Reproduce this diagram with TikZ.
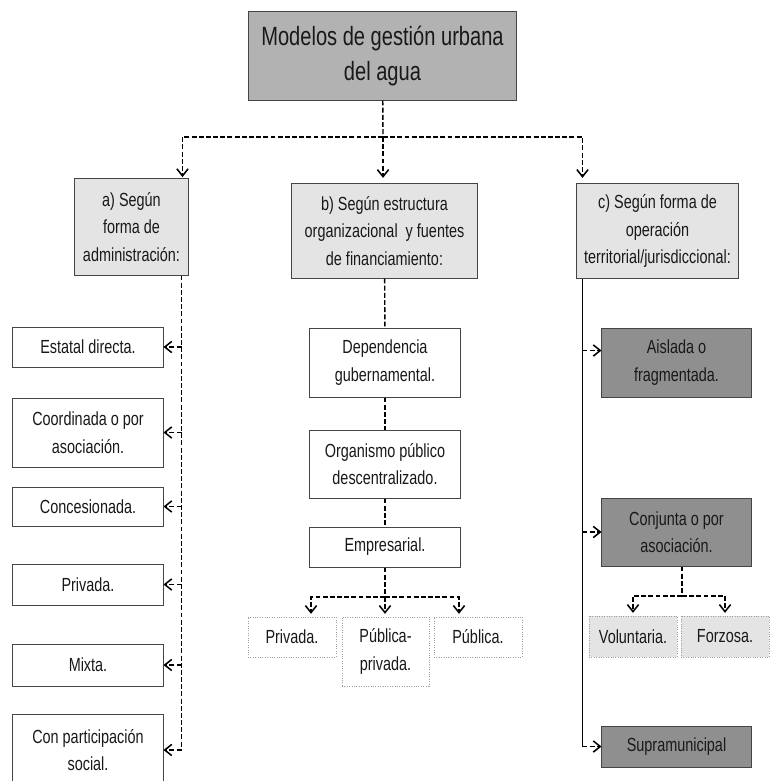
\documentclass[tikz,border=0pt]{standalone}
\usepackage{fontspec}
\setmainfont{Liberation Sans}[FakeStretch=0.76]
\usepackage{xcolor}
\usetikzlibrary{arrows.meta}
\usetikzlibrary{calc}

\definecolor{grismedio}{HTML}{B2B2B2}
\definecolor{grisclaro}{HTML}{E4E4E4}
\definecolor{grisoscuro}{HTML}{8F8F8F}
\definecolor{borde}{HTML}{454545}

\tikzset{
	caja/.style={align=center, inner sep=0pt, draw=borde, line width=0.7pt, text=black!90,
		font=\fontsize{13.5}{19.6}\selectfont},
	hoja/.style={caja, fill=white},
	categoria/.style={caja, fill=grisclaro},
	oscura/.style={caja, fill=grisoscuro},
	punteada/.style={caja, draw=gray!75, densely dotted, line width=0.5pt},
	linea/.style={line width=1pt, dash pattern=on 3.5pt off 1.6pt},
	flecha/.style={linea, -{Straight Barb[length=5pt,width=8pt,line width=1.1pt]}},
	solida/.style={line width=1.4pt}
}

\begin{document}
\begin{tikzpicture}[x=0.025cm, y=-0.025cm]
	\clip (0,0) rectangle (773,781);
	\fill [white] (0,0) rectangle (773,781);

	% raiz
	\node [caja, fill=grismedio, minimum width=6.675cm, minimum height=2.2cm,
		font=\fontsize{18.8}{24.9}\selectfont] (raiz) at (382.5,56) {Modelos de gesti\'on urbana\\del agua};

	% tres criterios
	\node [categoria, minimum width=2.825cm, minimum height=2.4cm] (a) at (131.5,227) {a) Seg\'un\\forma de\\administraci\'on:};
	\node [categoria, minimum width=4.625cm, minimum height=2.35cm] (b) at (384.5,231) {b) Seg\'un estructura\\organizacional \ y fuentes\\de financiamiento:};
	\node [categoria, minimum width=4.025cm, minimum height=2.35cm] (c) at (657.5,231) {c) Seg\'un forma de\\operaci\'on\\territorial/jurisdiccional:};

	\coordinate (bus) at (383,137);
	\draw [linea] (raiz) -- (bus);
	\draw [flecha, shorten >=1pt] (bus) -| ($(a.north east)+(-6,0)$);
	\draw [flecha, shorten >=4pt] (bus) -- (bus |- b.north);
	\draw [flecha, shorten >=4pt] (bus) -| ($(c.north west)+(6,0)$);

	% columna a
	\node [hoja, minimum width=3.75cm, minimum height=1cm] (est) at (88,347) {Estatal directa.};
	\node [hoja, minimum width=3.75cm, minimum height=1.725cm] (coo) at (88,432.5) {Coordinada o por\\asociaci\'on.};
	\node [hoja, minimum width=3.75cm, minimum height=0.975cm] (conc) at (88,506.5) {Concesionada.};
	\node [hoja, minimum width=3.75cm, minimum height=1.025cm] (priv) at (88,584.5) {Privada.};
	\node [hoja, minimum width=3.75cm, minimum height=1.05cm] (mix) at (88,665) {Mixta.};
	\node [hoja, minimum width=3.75cm, minimum height=1.8cm] (con) at (88,750) {Con participaci\'on\\social.};

	\coordinate (la) at ($(a.south east)+(-7,0)$);
	\draw [linea] (la) -- (la |- con.east);
	\foreach \n in {est,coo,conc,priv,mix,con}
		\draw [flecha] (la |- \n.east) -- (\n.east);

	% columna b
	\node [hoja, minimum width=3.75cm, minimum height=1.725cm] (dep) at (385,362.5) {Dependencia\\gubernamental.};
	\node [hoja, minimum width=3.75cm, minimum height=1.7cm] (org) at (385,464) {Organismo p\'ublico\\descentralizado.};
	\node [hoja, minimum width=3.75cm, minimum height=1cm] (emp) at (385,547) {Empresarial.};
	\draw [linea] (b) -- (dep);
	\draw [linea] (dep) -- (org);
	\draw [linea] (org) -- (emp);

	\node [punteada, minimum width=2.2cm, minimum height=1cm] (priv2) at (292,637) {Privada.};
	\node [punteada, minimum width=2.175cm, minimum height=1.725cm] (pp) at (385.5,651.5) {P\'ublica-\\privada.};
	\node [punteada, minimum width=2.2cm, minimum height=1cm] (pub) at (478,637) {P\'ublica.};

	\coordinate (bus2) at (385,597);
	\draw [linea] (emp) -- (bus2);
	\draw [flecha, shorten >=2pt] (bus2) -| ($(priv2.north)+(19,0)$);
	\draw [flecha, shorten >=2pt] (bus2) -- (bus2 |- pp.north);
	\draw [flecha, shorten >=2pt] (bus2) -| ($(pub.north)+(-19,0)$);

	% columna c
	\node [oscura, minimum width=3.725cm, minimum height=1.725cm] (ais) at (676.5,362.5) {Aislada o\\fragmentada.};
	\node [oscura, minimum width=3.725cm, minimum height=1.7cm] (conj) at (676.5,532) {Conjunta o por\\asociaci\'on.};
	\node [oscura, minimum width=3.725cm, minimum height=1.025cm] (sup) at (676.5,746.5) {Supramunicipal};

	\coordinate (lc) at ($(c.south west)+(6,0)$);
	\draw [solida] (lc) -- (lc |- sup.west);
	\draw [flecha] ($(lc |- ais.west)+(0,-12)$) -- ($(ais.west)+(0,-12)$);
	\draw [flecha] (lc |- conj.west) -- (conj.west);
	\draw [flecha] (lc |- sup.west) -- (sup.west);

	\node [punteada, fill=grisclaro, minimum width=2.2cm, minimum height=1.025cm] (vol) at (633,636.5) {Voluntaria.};
	\node [punteada, fill=grisclaro, minimum width=2.2cm, minimum height=1.025cm] (forz) at (725,636.5) {Forzosa.};

	\coordinate (bus3) at (682,596);
	\draw [linea] (bus3 |- conj.south) -- (bus3);
	\draw [flecha, shorten >=2pt] (bus3) -| (vol.north);
	\draw [flecha, shorten >=2pt] (bus3) -| (forz.north);
\end{tikzpicture}
\end{document}
